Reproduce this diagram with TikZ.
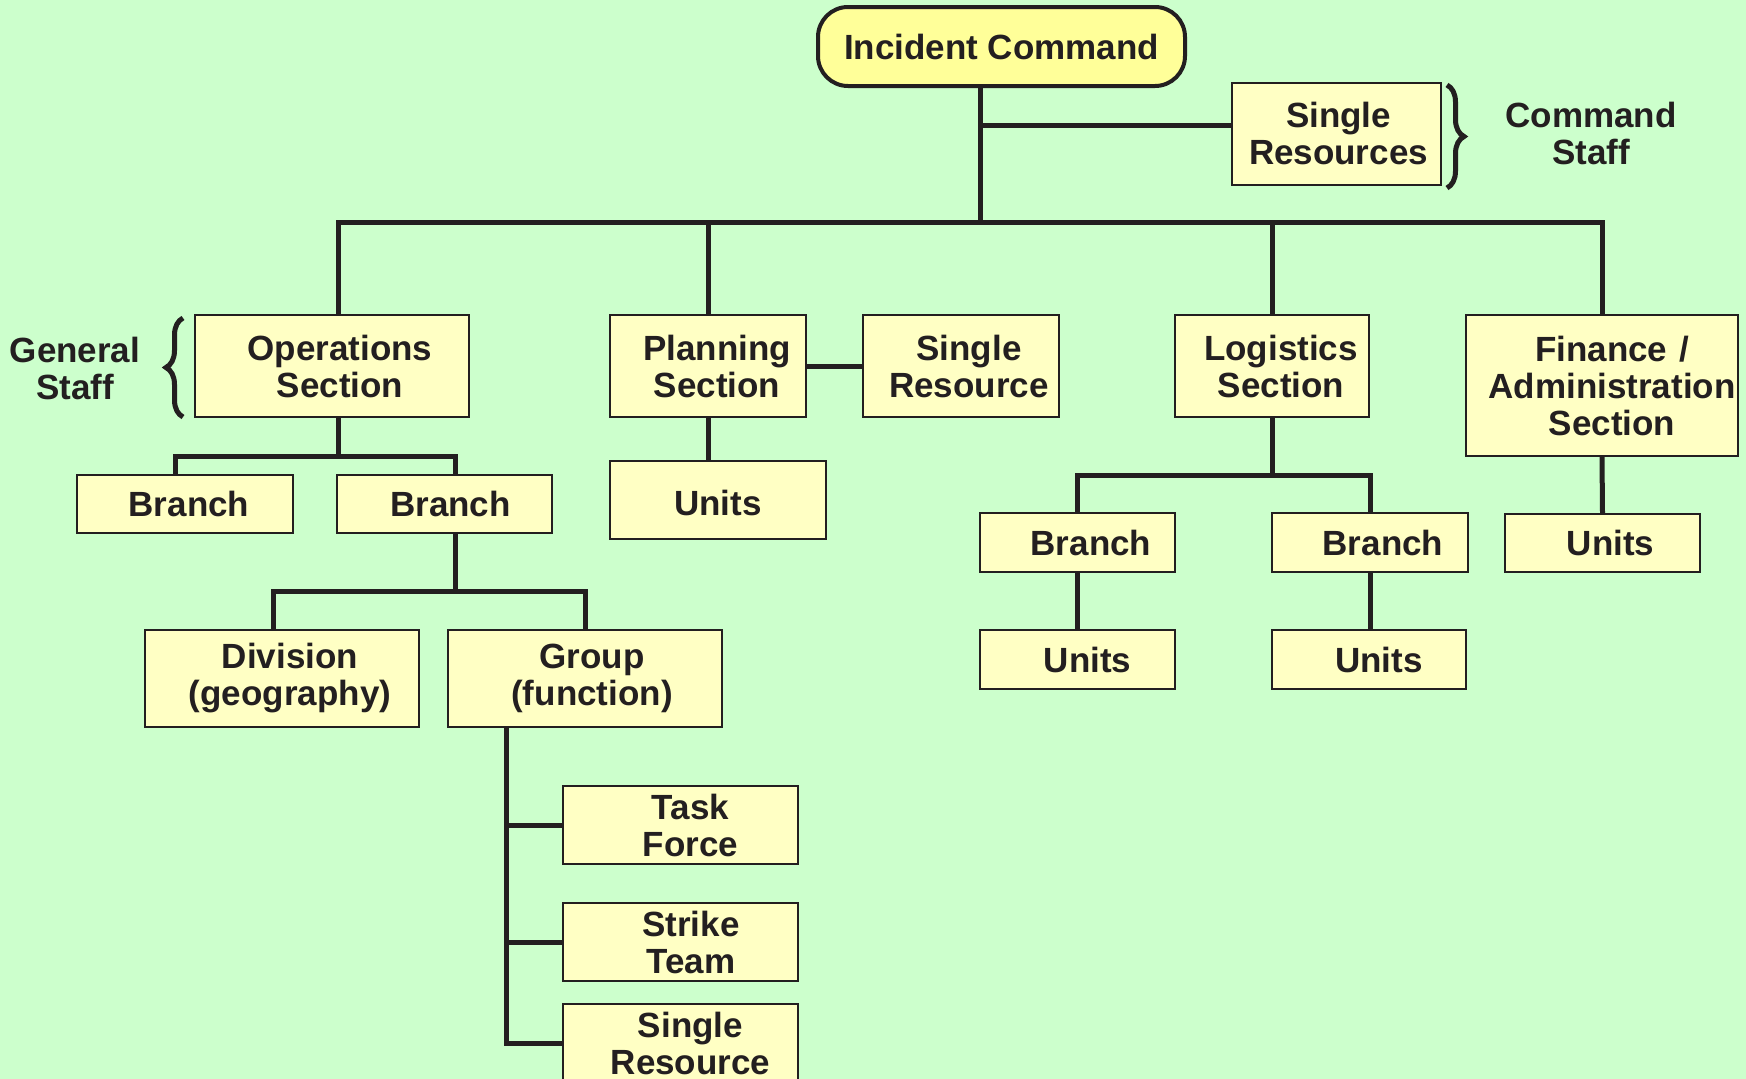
\documentclass[tikz,border=0pt]{standalone}
\usepackage{fontspec}
\setmainfont{Liberation Sans}
\usetikzlibrary{decorations.pathreplacing}
\definecolor{bggreen}{HTML}{CCFFCC}
\definecolor{boxyellow}{HTML}{FFFFC4}
\definecolor{cmdyellow}{HTML}{FFFF99}
\definecolor{ink}{HTML}{231F20}
\newcommand\boxnudge{18pt}
\begin{document}
\begin{tikzpicture}[x=1pt,y=-1pt,line join=miter,
    nudge/.code={\def\boxnudge{#1}},
    box/.style 2 args={draw=ink,line width=2pt,fill=boxyellow,inner sep=0pt,text=ink,
        font=\fontsize{35}{37}\selectfont\bfseries,text width=#1,minimum height=#2,
        execute at begin node={\parindent=0pt\leftskip=\boxnudge plus 1fil\rightskip=0pt plus 1fil\parfillskip=0pt\relax}},
    link/.style={draw=ink,line width=5pt},
    curly/.style={draw=ink,line width=5pt,decorate,decoration={brace,amplitude=17pt}},
    lbl/.style={text=ink,align=center,font=\fontsize{35}{37}\selectfont\bfseries}]
    \fill[bggreen] (0,0) rectangle (1746,1079);
    \useasboundingbox (0,0) rectangle (1746,1079);

    \coordinate (bus) at (980,222);
    \coordinate (cmdjoin) at (980,125);
    \coordinate (opsbus) at (338,456);
    \coordinate (brbus) at (455,591);
    \coordinate (logbus) at (1272,475);
    \coordinate (spine) at (506,727);

    % top
    \node[lbl,draw=ink,line width=4pt,rounded corners=30pt,fill=cmdyellow,minimum width=367pt,minimum height=79pt] (ic) at (1001.5,46.5) {Incident Command};
    \node[box={209pt}{102pt},nudge=4pt] (cmdres) at (1336.5,133.5) {Single\\Resources};
    \node[lbl] (cmdstaff) at (1591,133) {Command\\Staff};

    % sections
    \node[box={274pt}{102pt},nudge=16pt] (ops) at (332,366) {Operations\\Section};
    \node[box={196pt}{102pt}] (plan) at (708,366) {Planning\\Section};
    \node[box={196pt}{102pt},nudge=16pt] (planres) at (961,366) {Single\\Resource};
    \node[box={194pt}{102pt}] (log) at (1272,366) {Logistics\\Section};
    \node[box={272pt}{141pt},nudge=20pt] (fin) at (1602,385.5) {Finance /\\Administration\\Section};
    \node[lbl] (genstaff) at (75,368) {General\\Staff};

    % operations
    \node[box={216pt}{58pt},nudge=8pt] (opsbr1) at (185,504) {Branch};
    \node[box={215pt}{58pt},nudge=12pt] (opsbr2) at (444.5,504) {Branch};
    \node[box={274pt}{97pt},nudge=16pt] (div) at (282,678.5) {Division\\(geography)};
    \node[box={274pt}{97pt},nudge=14pt] (grp) at (585,678.5) {Group\\(function)};
    \node[box={235pt}{78pt},nudge=20pt] (tf) at (680.5,825) {Task\\Force};
    \node[box={235pt}{78pt},nudge=21pt] (st) at (680.5,942) {Strike\\Team};
    \node[box={235pt}{78pt},nudge=20pt] (sr) at (680.5,1043) {Single\\Resource};

    % planning, logistics, finance
    \node[box={216pt}{78pt},nudge=0pt,text height=31pt] (planunits) at (718,500) {Units};
    \node[box={195pt}{59pt},nudge=27pt] (logbr1) at (1077.5,542.5) {Branch};
    \node[box={196pt}{59pt},nudge=26pt] (logbr2) at (1370,542.5) {Branch};
    \node[box={195pt}{59pt},nudge=20pt] (logu1) at (1077.5,659.5) {Units};
    \node[box={194pt}{59pt},nudge=20pt] (logu2) at (1369,659.5) {Units};
    \node[box={195pt}{58pt},nudge=16pt] (finunits) at (1602.5,543) {Units};

    % braces
    \draw[curly] (1447,85) -- (1447,188); % command staff
    \draw[curly] (183,417) -- (183,318); % general staff

    % connectors
    \draw[link] (ic.south -| bus) -- (bus);
    \draw[link] (cmdjoin) -- (cmdjoin -| cmdres.west);
    \draw[link] ([xshift=6pt]ops.north) |- (bus) -| (fin.north);
    \draw[link] (plan.north) -- (plan.north |- bus);
    \draw[link] (log.north) -- (log.north |- bus);
    \draw[link] (plan.east) -- (planres.west);
    \draw[link] (plan.south) -- (plan.south |- planunits.north);
    \draw[link] (fin.south) -- (finunits.north);

    \draw[link] (ops.south -| opsbus) -- (opsbus);
    \draw[link] ([xshift=-10pt]opsbr1.north) |- (opsbus) -| (opsbr2.north -| brbus);
    \draw[link] (opsbr2.south -| brbus) -- (brbus);
    \draw[link] ([xshift=-9pt]div.north) |- (brbus) -| (grp.north);
    \draw[link] (spine) |- (sr.west);
    \draw[link] (spine |- tf.west) -- (tf.west);
    \draw[link] (spine |- st.west) -- (st.west);

    \draw[link] (log.south) -- (logbus);
    \draw[link] (logbr1.north) |- (logbus) -| (logbr2.north);
    \draw[link] (logbr1.south) -- (logu1.north);
    \draw[link] (logbr2.south) -- (logbr2.south |- logu2.north);
\end{tikzpicture}
\end{document}
